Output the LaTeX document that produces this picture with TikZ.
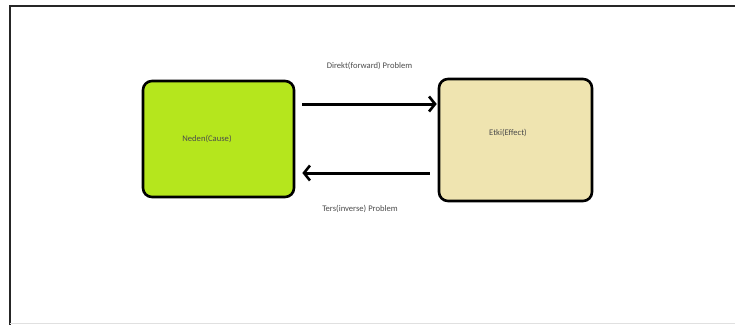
\documentclass[tikz,border=0pt]{standalone}
\usepackage{fontspec}
\setmainfont{Carlito}
\usepackage{xcolor}
\usetikzlibrary{arrows.meta, positioning}

\definecolor{causegreen}{RGB}{181,230,29}
\definecolor{effecttan}{RGB}{239,228,176}

\begin{document}
\begin{tikzpicture}[
    x=1pt, y=1pt,
    box/.style    ={draw, line width=2.6pt, rounded corners=9pt, inner sep=0pt},
    causebox/.style ={box, fill=causegreen, minimum width=151pt, minimum height=116pt},
    effectbox/.style={box, fill=effecttan, minimum width=153pt, minimum height=122pt},
    flow/.style   ={-{Straight Barb[length=6pt, width=15pt, line width=2.6pt]},
                    line width=3pt},
    lbl/.style    ={text=black!70, font=\fontsize{8.6}{10}\selectfont}
]
\useasboundingbox (0,0) rectangle (735,325);

% frame
\draw[line width=2.6pt, black!85] (735,319) -- (10,319) -- (10,0);
\draw[black!12] (10,1.5) -- (735,1.5);

% boxes
\node[causebox]  (cause)  at (218.5,186) {};
\node[effectbox] (effect) at (515.5,185) {};
\node[lbl] (causetxt)  at (207,186) {Neden(Cause)};
\node[lbl] (effecttxt) at (508,192) {Etki(Effect)};

% arrows
\draw[flow] ([shift={(7,35)}]cause.east) -- ([shift={(-1,36)}]effect.west)
    node[midway, above=29pt, lbl] (fwd) {Direkt(forward) Problem};
\draw[flow] ([shift={(-8,-33)}]effect.west) -- ([shift={(7,-34)}]cause.east)
    node[midway, below=27pt, xshift=-6pt, lbl] (inv) {Ters(inverse) Problem};

\end{tikzpicture}
\end{document}
